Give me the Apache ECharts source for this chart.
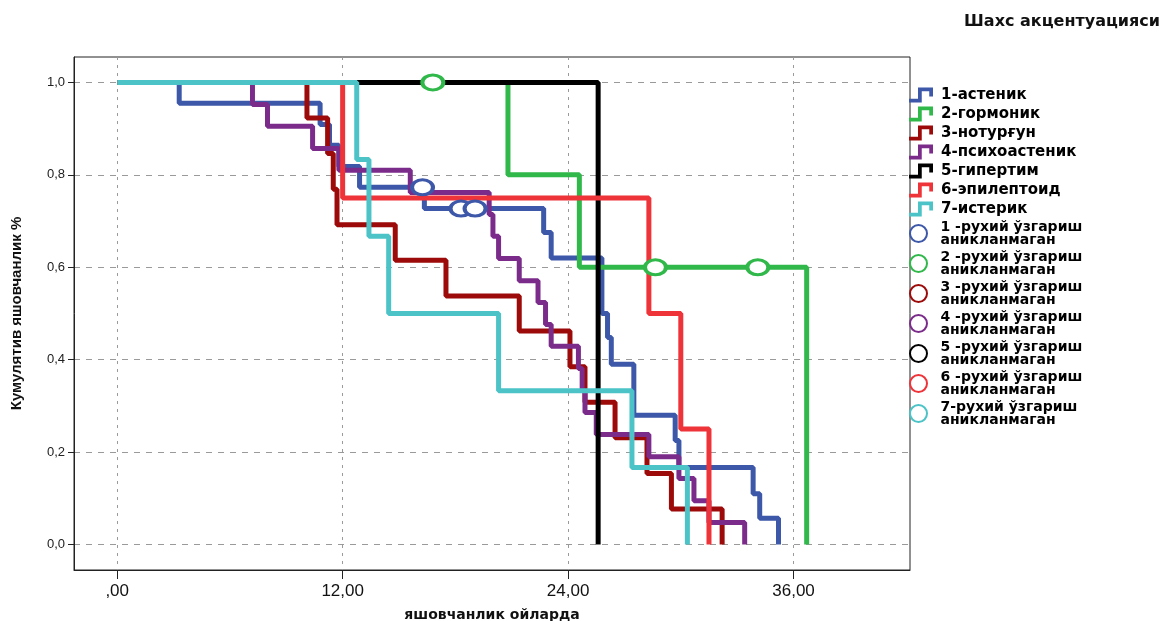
<!DOCTYPE html>
<html>
<head>
<meta charset="utf-8">
<script src="https://cdn.jsdelivr.net/npm/echarts@6/dist/echarts.min.js"></script>
<style>html,body{margin:0;padding:0;background:#fff}#c{width:1173px;height:621px}</style>
</head>
<body>
<div id="c"></div>
<script>
// ---- data ----
const groupNames = ['1-астеник','2-гормоник','3-нотурғун','4-психоастеник','5-гипертим','6-эпилептоид','7-истерик'];
const censorNames = ['1 -рухий ўзгариш\nаникланмаган','2 -рухий ўзгариш\nаникланмаган','3 -рухий ўзгариш\nаникланмаган','4 -рухий ўзгариш\nаникланмаган','5 -рухий ўзгариш\nаникланмаган','6 -рухий ўзгариш\nаникланмаган','7-рухий ўзгариш\nаникланмаган'];
const colors = ['#3d57a9','#30b84a','#9c0a0a','#7b2c8b','#000000','#ee3339','#4bc3c7'];

const time1 = [0, 3.3, 10.8, 11.3, 11.8, 12.9, 16.35, 22.7, 23.1, 25.8, 26.1, 26.3, 27.5, 29.7, 29.9, 33.85, 34.2, 35.2];
const surv1 = [1, 0.955, 0.909, 0.864, 0.818, 0.773, 0.727, 0.675, 0.62, 0.5, 0.448, 0.39, 0.28, 0.225, 0.167, 0.11, 0.057, 0];
const time2 = [0, 20.8, 24.6, 36.7];
const surv2 = [1, 0.8, 0.6, 0];
const time3 = [0, 10.1, 11.2, 11.5, 11.7, 14.8, 17.5, 21.4, 24.1, 24.9, 26.5, 28.2, 29.5, 32.2];
const surv3 = [1, 0.923, 0.846, 0.769, 0.692, 0.615, 0.538, 0.462, 0.385, 0.308, 0.231, 0.154, 0.077, 0];
const time4 = [0, 7.2, 8.0, 10.4, 11.8, 15.6, 19.8, 20.0, 20.3, 21.4, 22.4, 22.8, 23.1, 24.55, 24.75, 24.9, 25.5, 28.3, 29.9, 30.7, 31.5, 33.4];
const surv4 = [1, 0.952, 0.905, 0.857, 0.810, 0.762, 0.714, 0.667, 0.619, 0.571, 0.524, 0.476, 0.429, 0.381, 0.333, 0.286, 0.238, 0.190, 0.143, 0.095, 0.048, 0];
const time5 = [0, 25.6];
const surv5 = [1, 0];
const time6 = [0, 12.0, 28.3, 30.0, 31.5];
const surv6 = [1, 0.75, 0.5, 0.25, 0];
const time7 = [0, 12.75, 13.4, 14.45, 20.3, 27.4, 30.35];
const surv7 = [1, 0.833, 0.667, 0.5, 0.333, 0.167, 0];

const censorTime1 = [16.25, 18.3, 19.05];
const censorSurv1 = [0.773, 0.727, 0.727];
const censorTime2 = [16.8, 28.65, 34.1];
const censorSurv2 = [1, 0.6, 0.6];

const xTickValues = [0, 12, 24, 36];
const xTickLabels = [',00', '12,00', '24,00', '36,00'];
const yTickValues = [0, 0.2, 0.4, 0.6, 0.8, 1.0];
const yTickLabels = ['0,0', '0,2', '0,4', '0,6', '0,8', '1,0'];

// ---- build ----
const times = [time1, time2, time3, time4, time5, time6, time7];
const survs = [surv1, surv2, surv3, surv4, surv5, surv6, surv7];
const cTimes = [censorTime1, censorTime2, [], [], [], [], []];
const cSurvs = [censorSurv1, censorSurv2, [], [], [], [], []];
const pair = (t, s) => t.map((v, i) => [v, s[i]]);
const lookup = (vals, labels, v) => { const i = vals.findIndex(x => Math.abs(x - v) < 1e-9); return i >= 0 ? labels[i] : ''; };

const stepIcon = 'path://M0,15 L12,15 L12,0 L32,0 L32,12 L27,12 L27,5 L17,5 L17,20 L0,20 Z';

const series = [];
groupNames.forEach((n, i) => {
  series.push({
    name: n, type: 'line', step: 'end', symbol: 'none',
    data: pair(times[i], survs[i]),
    lineStyle: { color: colors[i], width: 5 },
    itemStyle: { color: colors[i] },
    z: 2 + i, animation: false
  });
});
censorNames.forEach((n, i) => {
  series.push({
    name: n, type: 'scatter', symbol: 'circle', symbolSize: [21, 15],
    data: pair(cTimes[i], cSurvs[i]),
    itemStyle: { color: '#ffffff', borderColor: colors[i], borderWidth: 3.5, opacity: 1 },
    z: 20, animation: false
  });
});

const chart = echarts.init(document.getElementById('c'), null, { renderer: 'canvas' });
chart.setOption({
  backgroundColor: '#ffffff',
  animation: false,
  title: {
    text: 'Шахс акцентуацияси', right: 8, top: 9,
    textStyle: { fontFamily: 'DejaVu Sans', fontWeight: 'bold', fontSize: 16, color: '#111' }
  },
  grid: { left: 74, right: 263, top: 57, bottom: 51, show: true, borderColor: '#222', borderWidth: 1,
    containLabel: false, outerBoundsMode: 'none' },
  legend: [
    {
      orient: 'vertical', left: 909, top: 87, padding: 0, itemGap: 3,
      itemWidth: 34, itemHeight: 15, selectedMode: false,
      itemStyle: { borderWidth: 0 },
      data: groupNames.map(n => ({ name: n, icon: stepIcon })),
      textStyle: { fontFamily: 'DejaVu Sans', fontWeight: 'bold', fontSize: 15, lineHeight: 16, color: '#000', padding: [0,0,0,-2] }
    },
    {
      orient: 'vertical', left: 909, top: 220, padding: 0, itemGap: 3,
      itemWidth: 30, itemHeight: 17, selectedMode: false,
      data: censorNames.map(n => ({ name: n })),
      textStyle: { fontFamily: 'DejaVu Sans', fontWeight: 'bold', fontSize: 14, lineHeight: 13, color: '#000', padding: [0,0,0,2] }
    }
  ],
  xAxis: {
    type: 'value', min: -2.3, max: 42.2,
    name: 'яшовчанлик ойларда', nameLocation: 'middle', nameGap: 38,
    nameTextStyle: { fontFamily: 'DejaVu Sans', fontWeight: 'bold', fontSize: 14, color: '#111' },
    axisLine: { show: true, onZero: false, lineStyle: { color: '#222', width: 1 } },
    axisTick: { show: true, length: 9, customValues: xTickValues, lineStyle: { color: '#222' } },
    axisLabel: { customValues: xTickValues, margin: 13, fontFamily: 'Liberation Sans', fontSize: 17, color: '#111',
      formatter: v => lookup(xTickValues, xTickLabels, v) },
    splitLine: { show: true, lineStyle: { color: '#9a9a9a', type: [3, 5], width: 1 } }
  },
  yAxis: {
    type: 'value', min: -0.055, max: 1.055,
    name: 'Кумулятив яшовчанлик %', nameLocation: 'middle', nameGap: 50, nameRotate: 90,
    nameTextStyle: { fontFamily: 'Liberation Sans', fontWeight: 'bold', fontSize: 15, color: '#111' },
    axisLine: { show: true, onZero: false, lineStyle: { color: '#222', width: 1 } },
    axisTick: { show: true, length: 6, customValues: yTickValues, lineStyle: { color: '#222' } },
    axisLabel: { customValues: yTickValues, margin: 9, fontFamily: 'Liberation Sans', fontSize: 13, color: '#222',
      formatter: v => lookup(yTickValues, yTickLabels, v) },
    splitLine: { show: true, lineStyle: { color: '#9a9a9a', type: [6, 6], width: 1 } }
  },
  series: series
});
</script>
</body>
</html>
